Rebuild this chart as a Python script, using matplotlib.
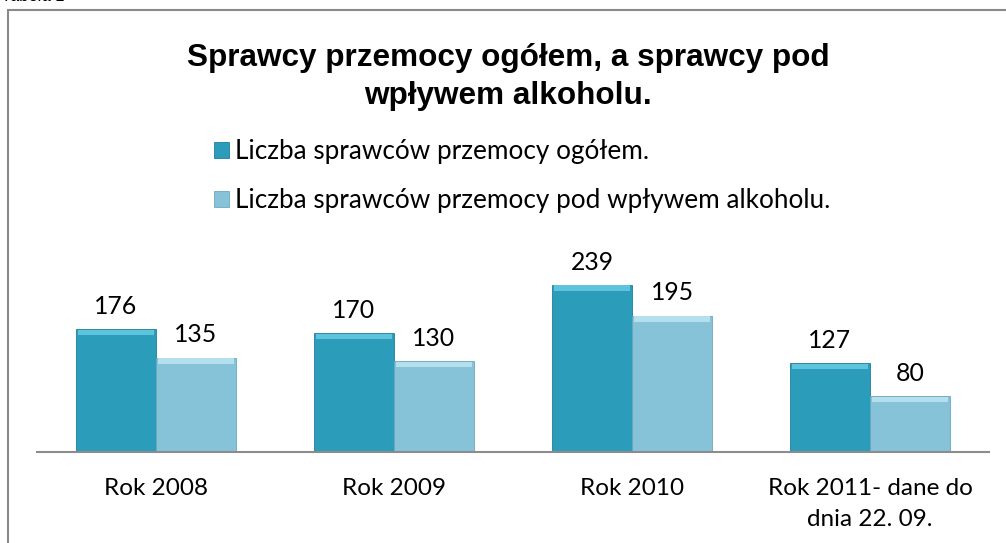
import matplotlib.pyplot as plt
import numpy as np
from matplotlib.patches import Rectangle

categories = ['Rok 2008', 'Rok 2009', 'Rok 2010', 'Rok 2011- dane do\ndnia 22. 09.']
ogolem = [176, 170, 239, 127]
alkohol = [135, 130, 195, 80]
series_names = ['Liczba sprawców przemocy ogółem.',
                'Liczba sprawców przemocy pod wpływem alkoholu.']

dark = '#2b9dbb'
light = '#87c3d8'
dark_top = '#5ec3dc'
light_top = '#b4e0ee'

fig = plt.figure(figsize=(10.06, 5.43), dpi=100)
W, H = 1006, 543

# axes placed in pixel terms of the original
ax = fig.add_axes([37 / W, (H - 452) / H, 952 / W, 212 / H])
x = np.arange(len(categories))
bw = 80 / 238

b1 = ax.bar(x - bw / 2, ogolem, bw, color=dark, edgecolor='#1f7f99', linewidth=0.6,
            label=series_names[0], zorder=2)
b2 = ax.bar(x + bw / 2, alkohol, bw, color=light, edgecolor='#6aa9bf', linewidth=0.6,
            label=series_names[1], zorder=2)

# bevel-ish top highlight
ax.bar(x - bw / 2, [8] * len(x), bw * 0.96, bottom=np.array(ogolem) - 9, color=dark_top,
       linewidth=0, zorder=3)
ax.bar(x + bw / 2, [8] * len(x), bw * 0.96, bottom=np.array(alkohol) - 9, color=light_top,
       linewidth=0, zorder=3)

for bars, vals in ((b1, ogolem), (b2, alkohol)):
    for r, v in zip(bars, vals):
        ax.annotate(str(v), (r.get_x() + r.get_width() / 2, v), xytext=(0, 8),
                    textcoords='offset points', ha='center', va='bottom',
                    fontsize=17.8, family='Lato', color='#000000')

ax.set_xlim(-0.5, len(categories) - 0.5)
ax.set_ylim(0, 303)
ax.set_xticks(x)
ax.set_xticklabels(categories, fontsize=17.5, family='Lato', linespacing=1.55)
ax.tick_params(axis='x', length=0, pad=19)
ax.set_yticks([])
for s in ['top', 'right', 'left']:
    ax.spines[s].set_visible(False)
ax.spines['bottom'].set_color('#8c8c8c')
ax.spines['bottom'].set_linewidth(1.5)
ax.patch.set_alpha(0)

fig.text(508 / W, 1 - 77 / H, 'Sprawcy przemocy ogółem, a sprawcy pod\nwpływem alkoholu.',
         ha='center', va='center', fontsize=22.7, fontweight='bold',
         family='Liberation Sans', linespacing=1.35)

fig.legend(handles=[b1, b2], labels=series_names, loc='upper left',
           bbox_to_anchor=(204 / W, 1 - 129 / H), frameon=False,
           prop={'family': 'Lato', 'size': 18.8}, handlelength=0.55, handleheight=0.55,
           handletextpad=0.25, labelspacing=0.9, borderaxespad=0)

# outer frame
fig.patches.append(Rectangle((8 / W, -0.1), 1.2, 1 - 10 / H + 0.1, transform=fig.transFigure,
                             fill=False, edgecolor='#8a8a8a', linewidth=1.5))
fig.text(0.002, 1 - 4 / H, 'Tabela 1', ha='left', va='bottom', fontsize=12,
         style='italic', family='Liberation Sans')

fig.savefig('out.png', dpi=100)
